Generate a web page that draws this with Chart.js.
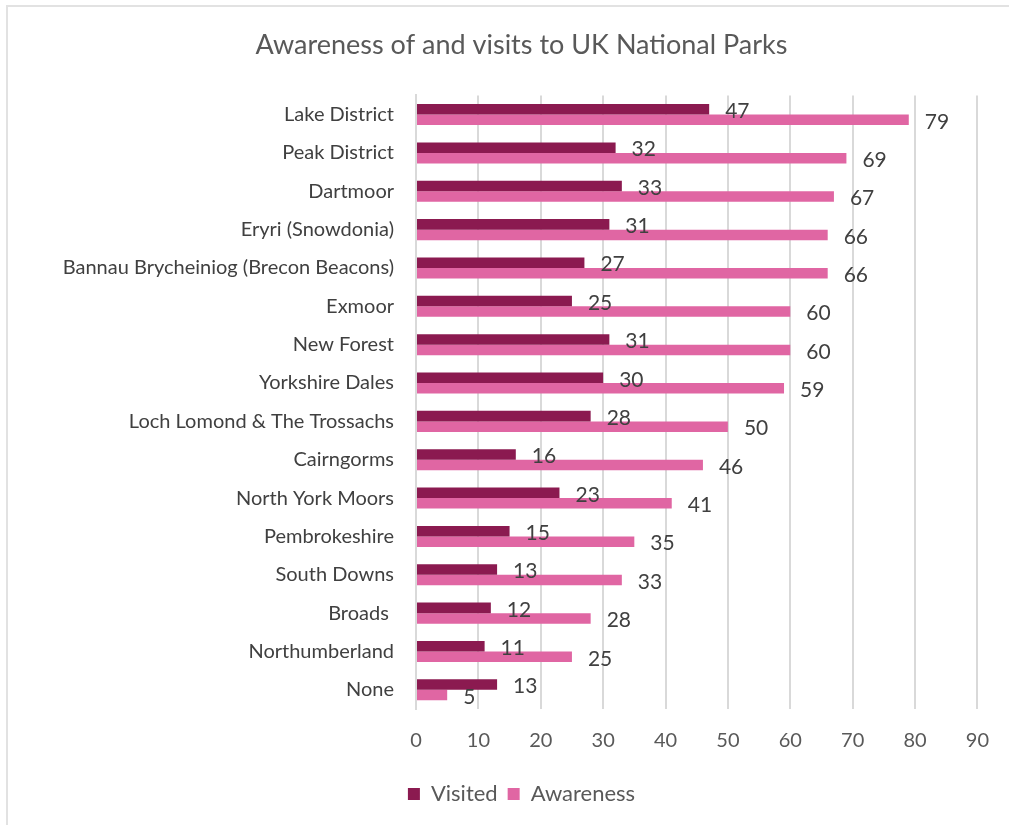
<!DOCTYPE html>
<html>
<head>
<meta charset="utf-8">
<script src="https://cdn.jsdelivr.net/npm/chart.js@4"></script>
<style>
  body { margin: 0; background: #fff; }
  #frame { position: absolute; left: 6px; top: 5px; width: 1010px; height: 830px;
           border-left: 2px solid #e2e2e2; border-top: 2px solid #e2e2e2; }
  #wrap { position: absolute; left: 0; top: 0; width: 1009px; height: 825px; }
</style>
</head>
<body>
<div id="frame"></div>
<div id="wrap"><canvas id="parksChart" width="1009" height="825"></canvas></div>
<script>
const parks = ['Lake District', 'Peak District', 'Dartmoor', 'Eryri (Snowdonia)',
    'Bannau Brycheiniog (Brecon Beacons)', 'Exmoor', 'New Forest', 'Yorkshire Dales',
    'Loch Lomond & The Trossachs', 'Cairngorms', 'North York Moors', 'Pembrokeshire',
    'South Downs', 'Broads ', 'Northumberland', 'None'];
const visited = [47, 32, 33, 31, 27, 25, 31, 30, 28, 16, 23, 15, 13, 12, 11, 13];
const awareness = [79, 69, 67, 66, 66, 60, 60, 59, 50, 46, 41, 35, 33, 28, 25, 5];
const xTicks = [0, 10, 20, 30, 40, 50, 60, 70, 80, 90];

const FONT = 'Lato, "Open Sans", sans-serif';

// draws the value next to the end of each bar
const barLabels = {
    id: 'barLabels',
    afterDatasetsDraw(chart) {
        const c = chart.ctx;
        c.save();
        c.font = '21px ' + FONT;
        c.fillStyle = '#404040';
        c.textBaseline = 'middle';
        c.textAlign = 'left';
        chart.data.datasets.forEach((ds, i) => {
            chart.getDatasetMeta(i).data.forEach((bar, j) => {
                c.fillText(ds.data[j], bar.x + 16, bar.y + 2);
            });
        });
        c.restore();
    }
};

const ctx = document.getElementById('parksChart').getContext('2d');
const parksChart = new Chart(ctx, {
    type: 'bar',
    data: {
        labels: parks,
        datasets: [{
            label: 'Visited',
            data: visited,
            backgroundColor: '#8b1a50',
            categoryPercentage: 0.55,
            barPercentage: 1
        }, {
            label: 'Awareness',
            data: awareness,
            backgroundColor: '#e066a3',
            categoryPercentage: 0.55,
            barPercentage: 1
        }]
    },
    options: {
        indexAxis: 'y',
        responsive: false,
        animation: false,
        layout: { padding: { left: 54, right: 20, top: 0, bottom: 10 } },
        plugins: {
            title: {
                display: true,
                text: 'Awareness of and visits to UK National Parks',
                color: '#595959',
                font: { family: FONT, size: 27, weight: 'normal' },
                padding: { top: 29, bottom: 34 }
            },
            legend: {
                position: 'bottom',
                labels: {
                    color: '#595959',
                    font: { family: FONT, size: 22 },
                    boxWidth: 12,
                    boxHeight: 12,
                    padding: 10
                }
            },
            tooltip: { enabled: false }
        },
        scales: {
            x: {
                min: 0,
                max: 90,
                afterBuildTicks(axis) {
                    axis.ticks = xTicks.map(v => ({ value: v }));
                },
                grid: { color: '#d9d9d9', lineWidth: 2, drawTicks: false },
                border: { display: false },
                ticks: {
                    color: '#595959',
                    font: { family: FONT, size: 20 },
                    padding: 20
                }
            },
            y: {
                grid: { display: false, drawTicks: false },
                border: { color: '#d9d9d9', width: 2 },
                ticks: {
                    color: '#404040',
                    font: { family: FONT, size: 20 },
                    padding: 22,
                    autoSkip: false
                },
                afterFit(axis) { axis.width = 362; }
            }
        }
    },
    plugins: [barLabels]
});
</script>
</body>
</html>
